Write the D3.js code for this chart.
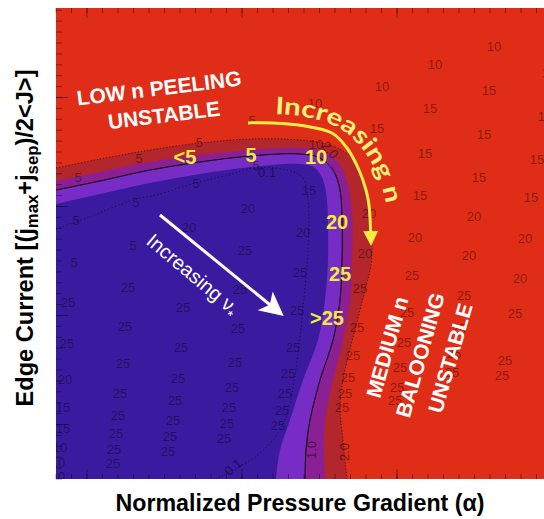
<!DOCTYPE html>
<html>
<head>
<meta charset="utf-8">
<script src="https://cdnjs.cloudflare.com/ajax/libs/d3/7.8.5/d3.min.js"></script>
<style>
  body { margin: 0; background: #fff; }
  svg { display: block; font-family: "Liberation Sans", Arial, sans-serif; }
</style>
</head>
<body>
<div id="chart"></div>
<script>
// growth-rate contours, [alpha, edge current] pairs (plot units)
var contour20 = [[0,3.11],[0.44,3.20],[0.94,3.29],[1.44,3.36],[1.94,3.40],[2.44,3.39],[2.74,3.34],[2.94,3.23],[3.06,3.04],[3.13,2.74],[3.16,2.39],[3.15,2.14],[3.09,1.89],[2.99,1.49],[2.89,1.09],[2.84,0.74],[2.87,0.39],[2.91,0]];
var contour15 = [[0,2.98],[0.44,3.07],[0.94,3.17],[1.44,3.24],[1.94,3.29],[2.44,3.31],[2.69,3.27],[2.84,3.14],[2.92,2.94],[2.96,2.64],[2.96,2.19],[2.94,1.79],[2.87,1.39],[2.77,0.99],[2.69,0.59],[2.68,0.29],[2.69,0]];
var contour10 = [[0,2.89],[0.44,2.98],[0.94,3.09],[1.44,3.17],[1.94,3.23],[2.44,3.25],[2.64,3.21],[2.77,3.09],[2.84,2.89],[2.86,2.59],[2.86,2.19],[2.84,1.79],[2.77,1.39],[2.64,0.99],[2.54,0.59],[2.50,0.29],[2.49,0]];
var contour05 = [[0,2.75],[0.44,2.85],[0.94,2.96],[1.44,3.05],[1.94,3.12],[2.44,3.15],[2.59,3.11],[2.67,2.99],[2.71,2.79],[2.72,2.49],[2.72,2.19],[2.69,1.79],[2.62,1.39],[2.47,0.99],[2.34,0.59],[2.24,0.29],[2.20,0]];
var contour01 = [[0,2.50],[0.33,2.62],[0.77,2.79],[1.00,2.84],[1.43,2.97],[1.73,3.04],[1.97,3.11],[2.31,3.09],[2.47,3.01],[2.52,2.79],[2.52,2.29],[2.47,1.72],[2.42,1.26],[2.34,0.76],[2.24,0.49],[2.04,0.26],[1.84,0.13],[1.59,0]];

// most unstable toroidal mode number n, [alpha, current, label]
var nLabels = [
  [4.38,4.33,"10"],[3.79,4.15,"10"],[3.26,3.93,"10"],[2.59,3.76,"10"],[4.93,4.07,"10"],[2.60,3.35,"10"],
  [4.33,3.89,"15"],[3.74,3.71,"15"],[3.21,3.51,"15"],[4.89,3.63,"15"],[4.28,3.45,"15"],[3.69,3.26,"15"],
  [4.81,3.20,"15"],[4.23,3.02,"15"],[3.64,2.84,"15"],[4.75,2.82,"15"],
  [4.18,2.63,"20"],[3.59,2.42,"20"],[4.69,2.41,"20"],[4.13,2.24,"20"],[3.13,2.66,"20"],[3.09,2.26,"20"],
  [2.53,2.89,"15"],[2.47,2.47,"20"],[2.00,3.14,"5"],
  [1.96,3.59,"5"],[1.43,3.37,"5"],[0.83,3.21,"5"],[0.22,3.02,"5"],[1.40,2.96,"5"],[0.80,2.77,"5"],
  [0.20,2.59,"5"],[0.77,2.34,"5"],[0.18,2.17,"5"],
  [1.92,2.71,"20"],[1.33,2.52,"20"],
  [1.89,2.29,"25"],[0.72,1.92,"25"],[0.12,1.77,"25"],[1.27,1.72,"25"],[1.84,1.90,"25"],[0.69,1.53,"25"],
  [1.82,1.51,"25"],[0.11,1.36,"25"],[1.25,1.32,"25"],[0.67,1.16,"25"],[1.79,1.17,"25"],[1.22,1.01,"25"],
  [0.64,0.86,"25"],[1.76,0.92,"25"],[1.19,0.79,"25"],[0.62,0.64,"25"],[1.73,0.72,"25"],[1.17,0.59,"25"],
  [0.60,0.46,"25"],[1.71,0.56,"25"],[1.14,0.43,"25"],[1.68,0.41,"25"],[0.58,0.30,"25"],[1.12,0.28,"25"],
  [0.57,0.16,"25"],
  [0.09,1.00,"20"],[0.07,0.72,"15"],[0.07,0.51,"15"],[0.04,0.32,"10"],[0.02,0.17,"10"],[0.02,0.03,"10"],
  [2.44,2.07,"25"],[2.41,1.69,"25"],[2.37,1.32,"25"],[2.32,1.06,"25"],[2.29,0.86,"25"],[2.26,0.69,"25"],[2.22,0.54,"25"],
  [3.04,1.91,"25"],[3.01,1.52,"25"],[2.97,1.24,"25"],[2.92,1.02,"25"],[2.89,0.86,"25"],[2.86,0.72,"25"],
  [3.56,2.04,"25"],[4.08,1.84,"25"],[3.51,1.67,"25"],[4.59,1.66,"25"],[4.03,1.51,"25"],[3.48,1.37,"25"],
  [3.98,1.26,"25"],[4.49,1.19,"25"],[4.46,1.04,"25"],[3.44,1.12,"25"],[3.96,1.07,"25"],[3.41,0.92,"25"],
  [3.39,0.79,"25"],[4.64,2.01,"20"]
];

// contour level labels [alpha, current, text, angle]
var levelLabels = [[2.11,3.07,"0.1",0],[1.77,0.12,"0.1",-40],[2.55,0.29,"1.0",-90],[2.88,0.27,"2.0",-90],[2.74,3.29,"2.0",50]];

// yellow n values along the boundary
var boundaryN = [[1.29,3.22,"<5"],[1.95,3.24,"5"],[2.60,3.22,"10"],[2.81,2.57,"20"],[2.84,2.05,"25"],[2.71,1.61,">25"]];

var nArrow = [[1.92,3.56],[2.16,3.56],[2.49,3.53],[2.76,3.46],[2.91,3.31],[3.03,3.09],[3.10,2.89],[3.13,2.74],[3.15,2.36]];
var nTextPath = [[2.19,3.65],[2.44,3.63],[2.69,3.57],[2.89,3.47],[3.04,3.33],[3.16,3.15],[3.25,2.95],[3.31,2.72]];
var nuArrow = [[1.04,2.64],[2.24,1.66]];

var width = 544, height = 519;
var margin = {top: 8, right: 0, bottom: 40, left: 56};

var x = d3.scaleLinear().domain([0, 4.88]).range([margin.left, margin.left + 488]);
var y = d3.scaleLinear().domain([0, 4.71]).range([height - margin.bottom, margin.top]);

var svg = d3.select("#chart").append("svg")
    .attr("width", width)
    .attr("height", height);

var defs = svg.append("defs");
defs.append("clipPath").attr("id", "plot")
  .append("rect")
    .attr("x", x(0)).attr("y", y(4.71))
    .attr("width", x(4.88) - x(0)).attr("height", y(0) - y(4.71));

defs.append("marker").attr("id", "headY")
    .attr("viewBox", "0 0 10 10").attr("refX", 8).attr("refY", 5)
    .attr("markerWidth", 5).attr("markerHeight", 5).attr("orient", "auto")
  .append("path").attr("d", "M0,0L10,5L0,10Z").attr("fill", "#f6ee45");
defs.append("marker").attr("id", "headW")
    .attr("viewBox", "0 0 10 10").attr("refX", 8).attr("refY", 5)
    .attr("markerWidth", 9).attr("markerHeight", 8).attr("orient", "auto")
  .append("path").attr("d", "M0,0L10,5L0,10L2.5,5Z").attr("fill", "#fff");

var plot = svg.append("g").attr("clip-path", "url(#plot)");

plot.append("rect")
    .attr("x", x(0)).attr("y", y(4.71))
    .attr("width", x(4.88) - x(0)).attr("height", y(0) - y(4.71))
    .attr("fill", "#e02d17");

var line = d3.line()
    .x(function(d) { return x(d[0]); })
    .y(function(d) { return y(d[1]); })
    .curve(d3.curveCatmullRom);

function region(pts) {
    return line(pts) + "L" + x(0) + "," + y(0) + "Z";
}

// filled bands, outside in
[[contour20, "#b2262c"], [contour15, "#8b2094"], [contour10, "#772cc6"], [contour05, "#3a1b9f"]]
  .forEach(function(b) {
    plot.append("path").attr("d", region(b[0])).attr("fill", b[1]);
  });

plot.append("path").attr("d", line(contour20))
    .attr("fill", "none").attr("stroke", "#000").attr("stroke-opacity", 0.6)
    .attr("stroke-width", 1).attr("stroke-dasharray", "1.2,2");
plot.append("path").attr("d", line(contour10))
    .attr("fill", "none").attr("stroke", "#000").attr("stroke-width", 1);
plot.append("path").attr("d", line(contour01))
    .attr("fill", "none").attr("stroke", "#000").attr("stroke-opacity", 0.6)
    .attr("stroke-width", 1).attr("stroke-dasharray", "1.2,2.5");

plot.append("g").selectAll("text")
    .data(nLabels)
  .enter().append("text")
    .attr("x", function(d) { return x(d[0]); })
    .attr("y", function(d) { return y(d[1]); })
    .attr("text-anchor", "middle")
    .attr("dominant-baseline", "central")
    .attr("font-size", 13)
    .attr("fill", "#000").attr("fill-opacity", 0.42)
    .text(function(d) { return d[2]; });

plot.append("g").selectAll("text")
    .data(levelLabels)
  .enter().append("text")
    .attr("transform", function(d) { return "translate(" + x(d[0]) + "," + y(d[1]) + ") rotate(" + d[3] + ")"; })
    .attr("text-anchor", "middle")
    .attr("dominant-baseline", "central")
    .attr("font-size", 13)
    .attr("fill", "#000").attr("fill-opacity", 0.5)
    .text(function(d) { return d[2]; });

// axis ticks, drawn inward on all sides
var xMinor = d3.range(0, 4.9, 0.155), xMajor = [0.31, 1.86, 3.41];
var yMinor = d3.range(0, 4.72, 0.109), yMajor = [0.545, 1.635, 2.725, 3.815];
var ticks = svg.append("g").attr("stroke", "#000").attr("stroke-opacity", 0.4).attr("stroke-width", 1);
xMinor.forEach(function(v) {
    ticks.append("line").attr("x1", x(v)).attr("x2", x(v)).attr("y1", y(0)).attr("y2", y(0) - 5);
    ticks.append("line").attr("x1", x(v)).attr("x2", x(v)).attr("y1", y(4.71)).attr("y2", y(4.71) + 5);
});
xMajor.forEach(function(v) {
    ticks.append("line").attr("x1", x(v)).attr("x2", x(v)).attr("y1", y(0)).attr("y2", y(0) - 10);
    ticks.append("line").attr("x1", x(v)).attr("x2", x(v)).attr("y1", y(4.71)).attr("y2", y(4.71) + 10);
});
yMinor.forEach(function(v) {
    ticks.append("line").attr("x1", x(0)).attr("x2", x(0) + 6).attr("y1", y(v)).attr("y2", y(v));
});
yMajor.forEach(function(v) {
    ticks.append("line").attr("x1", x(0)).attr("x2", x(0) + 12).attr("y1", y(v)).attr("y2", y(v));
});

// annotations
var ann = svg.append("g").attr("clip-path", "url(#plot)");

ann.append("text")
    .attr("transform", "translate(" + x(1.03) + "," + y(3.91) + ") rotate(-7)")
    .attr("text-anchor", "middle").attr("dominant-baseline", "central")
    .attr("font-size", 21).attr("font-weight", "bold").attr("fill", "#fff")
    .text("LOW n PEELING");
ann.append("text")
    .attr("transform", "translate(" + x(1.08) + "," + y(3.64) + ") rotate(-7)")
    .attr("text-anchor", "middle").attr("dominant-baseline", "central")
    .attr("font-size", 21).attr("font-weight", "bold").attr("fill", "#fff")
    .text("UNSTABLE");

[[3.31, 1.32, "MEDIUM n"], [3.64, 1.24, "BALOONING"], [3.94, 1.21, "UNSTABLE"]].forEach(function(d) {
    ann.append("text")
        .attr("transform", "translate(" + x(d[0]) + "," + y(d[1]) + ") rotate(-74)")
        .attr("text-anchor", "middle").attr("dominant-baseline", "central")
        .attr("font-size", 21).attr("font-weight", "bold").attr("fill", "#fff")
        .text(d[2]);
});

ann.append("path")
    .attr("d", d3.line().x(function(d) { return x(d[0]); }).y(function(d) { return y(d[1]); }).curve(d3.curveCatmullRom)(nArrow))
    .attr("fill", "none").attr("stroke", "#f6ee45").attr("stroke-width", 3)
    .attr("marker-end", "url(#headY)");

defs.append("path").attr("id", "npath")
    .attr("d", d3.line().x(function(d) { return x(d[0]); }).y(function(d) { return y(d[1]); }).curve(d3.curveCatmullRom)(nTextPath));
ann.append("text")
    .attr("font-size", 24).attr("font-weight", "bold").attr("fill", "#f8f27a")
    .attr("font-family", "Lato, 'Open Sans', sans-serif")
  .append("textPath").attr("href", "#npath")
    .attr("textLength", 158).attr("lengthAdjust", "spacingAndGlyphs")
    .text("Increasing n");

ann.append("line")
    .attr("x1", x(nuArrow[0][0])).attr("y1", y(nuArrow[0][1]))
    .attr("x2", x(nuArrow[1][0])).attr("y2", y(nuArrow[1][1]))
    .attr("stroke", "#fff").attr("stroke-width", 3)
    .attr("marker-end", "url(#headW)");

var nu = ann.append("text")
    .attr("transform", "translate(" + x(0.89) + "," + y(2.36) + ") rotate(40)")
    .attr("font-size", 20).attr("fill", "#fff");
nu.append("tspan").text("Increasing \u03bd");
nu.append("tspan").attr("font-size", 14).attr("dy", 6).text("*");

ann.append("g").selectAll("text")
    .data(boundaryN)
  .enter().append("text")
    .attr("x", function(d) { return x(d[0]); })
    .attr("y", function(d) { return y(d[1]); })
    .attr("text-anchor", "middle").attr("dominant-baseline", "central")
    .attr("font-size", 20).attr("font-weight", "bold").attr("fill", "#f4ec3a")
    .text(function(d) { return d[2]; });

// axis titles
svg.append("text")
    .attr("x", 300).attr("y", 511)
    .attr("text-anchor", "middle")
    .attr("font-size", 24).attr("font-weight", "bold")
    .attr("textLength", 369).attr("lengthAdjust", "spacingAndGlyphs")
    .text("Normalized Pressure Gradient (\u03b1)");

var yl = svg.append("text")
    .attr("transform", "translate(33,238) rotate(-90)")
    .attr("text-anchor", "middle")
    .attr("font-size", 24).attr("font-weight", "bold")
    .attr("textLength", 337).attr("lengthAdjust", "spacingAndGlyphs");
yl.append("tspan").text("Edge Current [(j");
yl.append("tspan").attr("font-size", 17).attr("dy", 5).text("max");
yl.append("tspan").attr("dy", -5).text("+j");
yl.append("tspan").attr("font-size", 17).attr("dy", 5).text("sep");
yl.append("tspan").attr("dy", -5).text(")/2<J>]");
</script>
</body>
</html>
